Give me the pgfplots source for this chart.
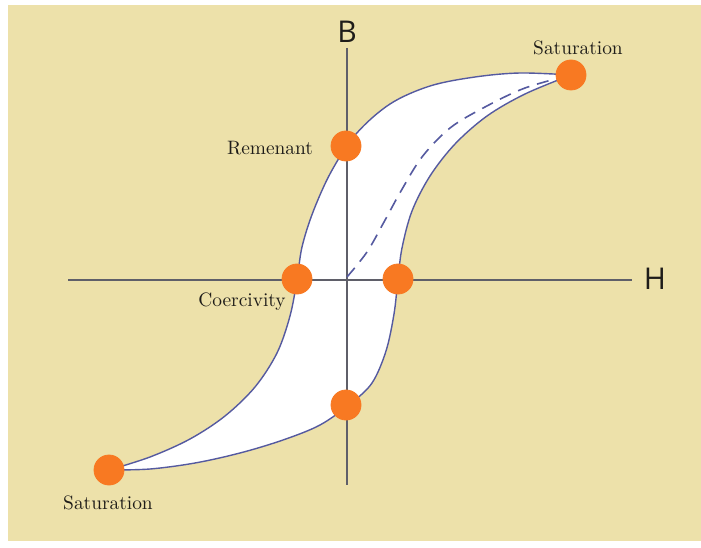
\documentclass[border=0pt]{standalone}
\usepackage{fontspec}
\newfontfamily\axfont{Open Sans}
\usepackage{pgfplots}
\pgfplotsset{compat=1.18}
\usepgfplotslibrary{fillbetween}
\definecolor{bgtan}{RGB}{237,225,170}
\definecolor{loopblue}{RGB}{85,90,160}
\definecolor{axgray}{RGB}{95,95,105}
\definecolor{dotorange}{RGB}{248,121,34}
\definecolor{txt}{RGB}{30,28,25}
\begin{document}
\begin{tikzpicture}
\begin{axis}[
  scale only axis, width=346.5pt, height=268pt,
  xmin=8, xmax=701, ymin=5, ymax=541, y dir=reverse,
  axis line style={draw=none}, ticks=none,
  axis background/.style={fill=bgtan},
  clip=false,
]
% axes
\draw[axgray, line width=1pt] (axis cs:347,48) -- (axis cs:347,485);
\draw[axgray, line width=1pt] (axis cs:68,280) -- (axis cs:632,280);
% loop branches
\addplot[name path=upper, draw=loopblue, line width=0.7pt, smooth, tension=0.55] coordinates {
(109,470) (150,457) (190,439) (225,416) (255,387) (277,353) (290,316) (297,280)
(302,247) (313,212) (331,172) (356,134) (390,104) (430,86) (475,77) (520,73) (571,75)};
\addplot[name path=lower, draw=loopblue, line width=0.7pt, smooth, tension=0.55] coordinates {
(109,470) (150,469) (195,463) (240,453) (283,440) (320,425) (350,404) (372,383)
(386,351) (394,314) (398,279) (402,248) (412,211) (430,176) (455,144) (487,116)
(525,94) (571,75)};
\addplot[white] fill between[of=upper and lower];
% redraw axis segments over fill
\draw[axgray, line width=1pt] (axis cs:347,146) -- (axis cs:347,406);
\draw[axgray, line width=1pt] (axis cs:297,280) -- (axis cs:398,280);
% dashed initial curve
\addplot[draw=loopblue, line width=0.8pt, dash pattern=on 6pt off 4pt, smooth, tension=0.55] coordinates {
(347,277) (367,252) (384,222) (401,191) (422,157) (450,128) (485,107) (525,88) (571,75)};
% dots
\addplot[only marks, mark=*, mark size=7.5pt, color=dotorange] coordinates {
(571,75) (346,146) (297,279) (398,279) (346,405) (109,470)};
% labels
\node[txt, font=\fontsize{9.7}{11}\selectfont] at (axis cs:578,48) {Saturation};
\node[txt, font=\fontsize{9.7}{11}\selectfont] at (axis cs:270,148) {Remenant};
\node[txt, font=\fontsize{9.7}{11}\selectfont] at (axis cs:242,302) {Coercivity};
\node[txt, font=\fontsize{9.7}{11}\selectfont] at (axis cs:108,503) {Saturation};
\node[txt, font=\axfont\fontsize{15}{17}\selectfont] at (axis cs:347,32) {B};
\node[txt, font=\axfont\fontsize{15}{17}\selectfont] at (axis cs:655,279) {H};
\end{axis}
\path (current axis.south west) ++(-4pt,-3pt) coordinate (bbsw);
\path (current axis.north east) ++(0pt,2.5pt) coordinate (bbne);
\useasboundingbox (bbsw) rectangle (bbne);
\end{tikzpicture}
\end{document}
